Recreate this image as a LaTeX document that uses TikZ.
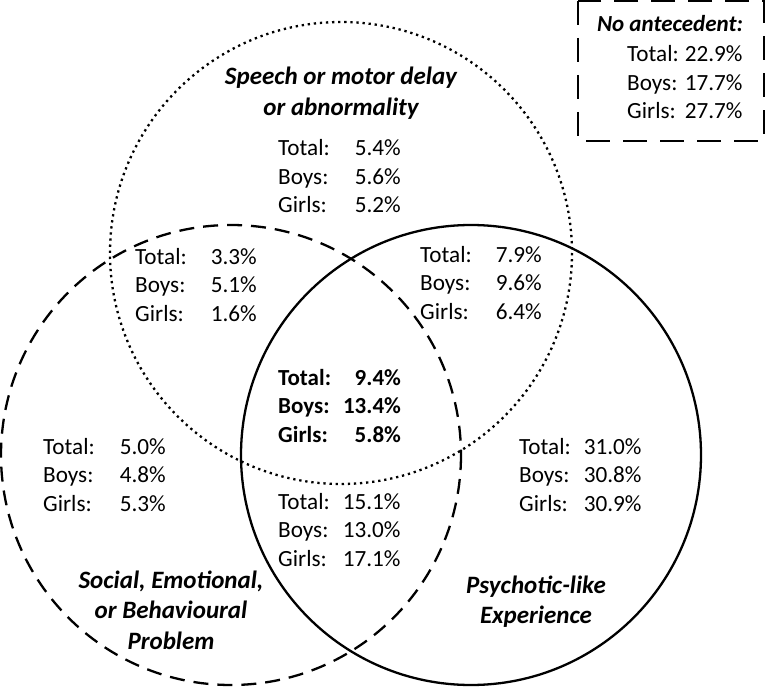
\documentclass[tikz,border=0pt]{standalone}
\usepackage{fontspec}
\setmainfont{Carlito}
\usepackage{tikz}

% three rows of rates, #1 = gap between label and value (pt)
\newcommand{\rates}[4]{%
  \begin{tabular}[t]{@{}l@{\hspace{#1pt}}r@{}}
    Total: & #2\\
    Boys: & #3\\
    Girls: & #4
  \end{tabular}}
\newcommand{\setname}[1]{%
  \begin{tabular}[t]{@{}c@{}}#1\end{tabular}}

\tikzset{
  venn/.style={line width=2.3pt},
  dotset/.style={venn, dash pattern=on 2.3pt off 3.8pt},
  dashset/.style={venn, dash pattern=on 15pt off 9pt},
  solidset/.style={venn},
  boxline/.style={line width=2.8pt, dash pattern=on 24pt off 13pt},
  ratebox/.style={anchor=base west, inner sep=0pt,
    font=\fontsize{23.2}{28.5}\selectfont},
  boldrates/.style={ratebox, font=\fontsize{23}{28.5}\selectfont\bfseries},
  setlabel/.style={anchor=base, inner sep=0pt,
    font=\fontsize{25}{30.5}\selectfont\bfseries\itshape},
  boxtitle/.style={setlabel, font=\fontsize{23}{28}\selectfont\bfseries\itshape},
}

\begin{document}
\begin{tikzpicture}[x=1pt, y=-1pt]
  \useasboundingbox (0,0) rectangle (769,690);

  % the three sets
  \draw[dotset] (341,253) circle[radius=231];
  \draw[dashset] (231,455) circle[radius=230];
  \draw[solidset] (471,455) circle[radius=230];

  % set names
  \node[setlabel] (speech-name) at (341,85) {\setname{Speech or motor delay\\or abnormality}};
  \node[setlabel] (social-name) at (171,588) {\setname{Social, Emotional,\\or Behavioural\\Problem}};
  \node[setlabel] (ple-name) at (536,593) {\setname{Psychotic-like\\Experience}};

  % regions
  \node[ratebox] (speech-only) at (278,156) {\rates{25}{5.4\%}{5.6\%}{5.2\%}};
  \node[ratebox] (speech-social) at (135,264) {\rates{24}{3.3\%}{5.1\%}{1.6\%}};
  \node[ratebox] (speech-ple) at (420,262) {\rates{24}{7.9\%}{9.6\%}{6.4\%}};
  \node[boldrates] (all-three) at (278,385) {\rates{12}{9.4\%}{13.4\%}{5.8\%}};
  \node[ratebox] (social-only) at (43,454) {\rates{25}{5.0\%}{4.8\%}{5.3\%}};
  \node[ratebox] (social-ple) at (278,509) {\rates{13}{15.1\%}{13.0\%}{17.1\%}};
  \node[ratebox] (ple-only) at (519,454) {\rates{13}{31.0\%}{30.8\%}{30.9\%}};

  % no antecedent
  \draw[boxline] (578,1) rectangle (764,141);
  \node[boxtitle] (none-name) at (670,32) {No antecedent:};
  \node[ratebox] (none-rates) at (627,62) {\rates{6}{22.9\%}{17.7\%}{27.7\%}};
\end{tikzpicture}
\end{document}
